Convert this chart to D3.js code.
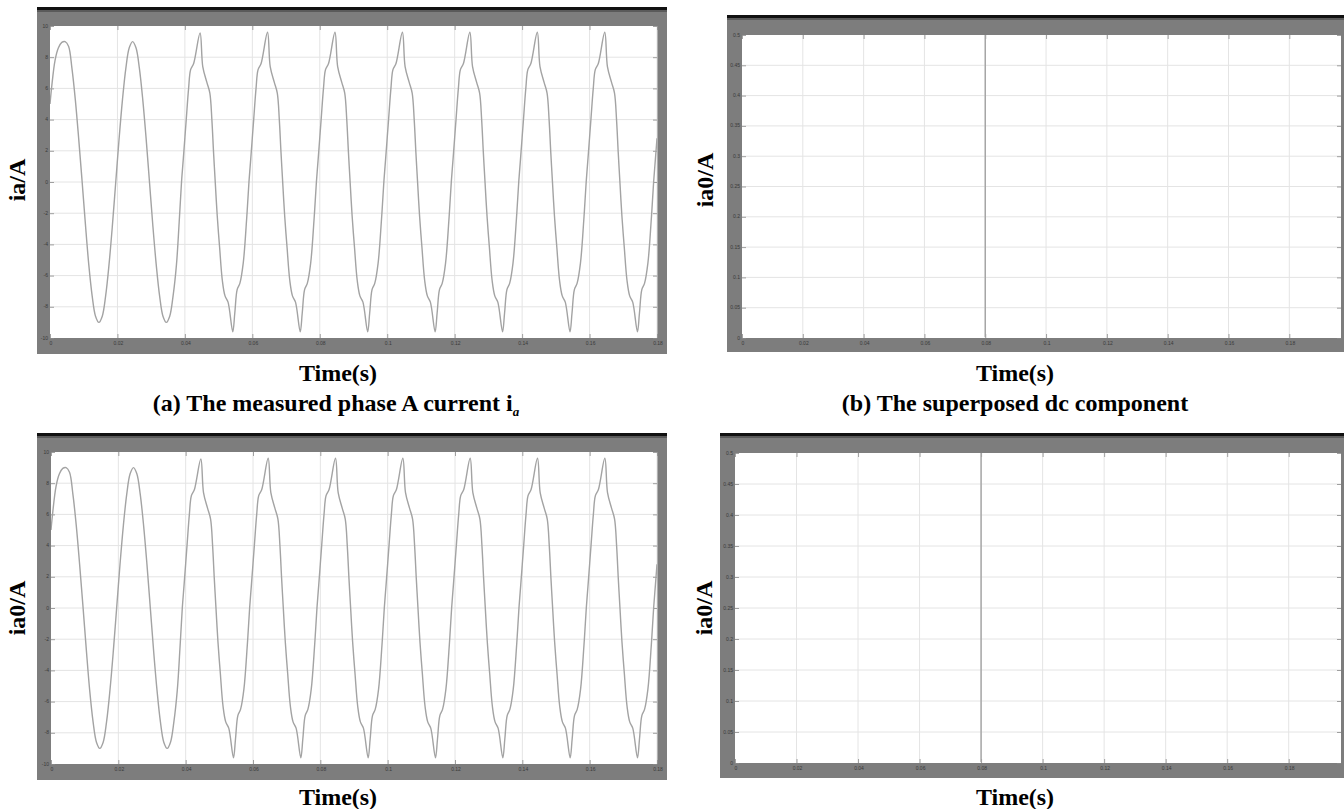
<!DOCTYPE html>
<html>
<head>
<meta charset="utf-8">
<script src="https://cdn.jsdelivr.net/npm/d3@7/dist/d3.min.js"></script>
<style>
  html, body { margin: 0; padding: 0; background: #fff; }
  svg { display: block; }
  .lbl { font-family: "Liberation Serif", "Times New Roman", serif; font-weight: bold; fill: #000; }
  .tk text { font-family: Arial, "Liberation Sans", sans-serif; font-size: 5px; fill: #3a3a3a; }
</style>
</head>
<body>
<svg id="chart" width="1344" height="809"></svg>
<script>
// ---------------- DATA ----------------
// Measured phase A current (s, A)
const iaTime = [
  0.0000, 0.0005, 0.0015, 0.0025, 0.0035, 0.0045, 0.0055, 0.0065, 0.0075, 0.0085, 0.0095,
  0.0105, 0.0115, 0.0125, 0.0135, 0.0145, 0.0155, 0.0165, 0.0175, 0.0185, 0.0195,
  0.0205, 0.0215, 0.0225, 0.0235, 0.0245, 0.0255, 0.0265, 0.0275, 0.0285, 0.0295,
  0.0305, 0.0315, 0.0325, 0.0335, 0.0345, 0.0355, 0.0365, 0.0375, 0.0383,
  0.0390, 0.0395, 0.0404, 0.0411, 0.0417, 0.0426, 0.0445, 0.0453, 0.0465, 0.0474, 0.0480, 0.0485,
  0.0490, 0.0496, 0.0503, 0.0511, 0.0519, 0.0528, 0.0542, 0.0548, 0.0555, 0.0563, 0.0573, 0.0583,
  0.0590, 0.0595, 0.0604, 0.0611, 0.0617, 0.0626, 0.0645, 0.0653, 0.0665, 0.0674, 0.0680, 0.0685,
  0.0690, 0.0696, 0.0703, 0.0711, 0.0719, 0.0728, 0.0742, 0.0748, 0.0755, 0.0763, 0.0773, 0.0783,
  0.0790, 0.0795, 0.0804, 0.0811, 0.0817, 0.0826, 0.0845, 0.0853, 0.0865, 0.0874, 0.0880, 0.0885,
  0.0890, 0.0896, 0.0903, 0.0911, 0.0919, 0.0928, 0.0942, 0.0948, 0.0955, 0.0963, 0.0973, 0.0983,
  0.0990, 0.0995, 0.1004, 0.1011, 0.1017, 0.1026, 0.1045, 0.1053, 0.1065, 0.1074, 0.1080, 0.1085,
  0.1090, 0.1096, 0.1103, 0.1111, 0.1119, 0.1128, 0.1142, 0.1148, 0.1155, 0.1163, 0.1173, 0.1183,
  0.1190, 0.1195, 0.1204, 0.1211, 0.1217, 0.1226, 0.1245, 0.1253, 0.1265, 0.1274, 0.1280, 0.1285,
  0.1290, 0.1296, 0.1303, 0.1311, 0.1319, 0.1328, 0.1342, 0.1348, 0.1355, 0.1363, 0.1373, 0.1383,
  0.1390, 0.1395, 0.1404, 0.1411, 0.1417, 0.1426, 0.1445, 0.1453, 0.1465, 0.1474, 0.1480, 0.1485,
  0.1490, 0.1496, 0.1503, 0.1511, 0.1519, 0.1528, 0.1542, 0.1548, 0.1555, 0.1563, 0.1573, 0.1583,
  0.1590, 0.1595, 0.1604, 0.1611, 0.1617, 0.1626, 0.1645, 0.1653, 0.1665, 0.1674, 0.1680, 0.1685,
  0.1690, 0.1696, 0.1703, 0.1711, 0.1719, 0.1728, 0.1742, 0.1748, 0.1755, 0.1763, 0.1773, 0.1783,
  0.1790, 0.1795, 0.1800
];
const iaValue = [
  5.0, 6.1, 7.8, 8.6, 8.95, 9.0, 8.7, 7.3, 5.3, 2.8, 0.1,
  -2.7, -5.3, -7.3, -8.6, -9.0, -8.6, -7.3, -5.3, -2.8, 0.0,
  2.8, 5.3, 7.3, 8.6, 9.0, 8.6, 7.3, 5.3, 2.8, 0.0,
  -2.8, -5.3, -7.3, -8.6, -9.0, -8.6, -7.3, -5.3, -2.6,
  0.0, 1.4, 4.0, 6.0, 7.2, 7.6, 9.55, 7.4, 6.4, 5.7, 4.0, 1.9,
  0.0, -2.2, -4.2, -6.3, -7.3, -7.7, -9.6, -8.4, -6.9, -6.5, -5.2, -2.4,
  0.0, 1.4, 4.0, 6.0, 7.2, 7.6, 9.6, 7.4, 6.4, 5.7, 4.0, 1.9,
  0.0, -2.2, -4.2, -6.3, -7.3, -7.7, -9.6, -8.4, -6.9, -6.5, -5.2, -2.4,
  0.0, 1.4, 4.0, 6.0, 7.2, 7.6, 9.6, 7.4, 6.4, 5.7, 4.0, 1.9,
  0.0, -2.2, -4.2, -6.3, -7.3, -7.7, -9.6, -8.4, -6.9, -6.5, -5.2, -2.4,
  0.0, 1.4, 4.0, 6.0, 7.2, 7.6, 9.6, 7.4, 6.4, 5.7, 4.0, 1.9,
  0.0, -2.2, -4.2, -6.3, -7.3, -7.7, -9.6, -8.4, -6.9, -6.5, -5.2, -2.4,
  0.0, 1.4, 4.0, 6.0, 7.2, 7.6, 9.6, 7.4, 6.4, 5.7, 4.0, 1.9,
  0.0, -2.2, -4.2, -6.3, -7.3, -7.7, -9.6, -8.4, -6.9, -6.5, -5.2, -2.4,
  0.0, 1.4, 4.0, 6.0, 7.2, 7.6, 9.6, 7.4, 6.4, 5.7, 4.0, 1.9,
  0.0, -2.2, -4.2, -6.3, -7.3, -7.7, -9.6, -8.4, -6.9, -6.5, -5.2, -2.4,
  0.0, 1.4, 4.0, 6.0, 7.2, 7.6, 9.6, 7.4, 6.4, 5.7, 4.0, 1.9,
  0.0, -2.2, -4.2, -6.3, -7.3, -7.7, -9.6, -8.4, -6.9, -6.5, -5.2, -2.4,
  0.0, 1.4, 2.8
];
// Superposed dc component (s, A): steps at 0.08 s, upper level beyond the 0.5 A scale
const dcTime  = [0.0, 0.08, 0.08, 0.197];
const dcValue = [0.0, 0.0, 0.8, 0.8];

// Tick labels
const iaTicks   = [-10, -8, -6, -4, -2, 0, 2, 4, 6, 8, 10];
const dcTicks   = [0, 0.05, 0.1, 0.15, 0.2, 0.25, 0.3, 0.35, 0.4, 0.45, 0.5];
const timeTicks = [0, 0.02, 0.04, 0.06, 0.08, 0.1, 0.12, 0.14, 0.16, 0.18];

const iaSeries = iaTime.map((t, i) => ({ t: t, v: iaValue[i] }));
const dcSeries = dcTime.map((t, i) => ({ t: t, v: dcValue[i] }));

// ---------------- LAYOUT ----------------
const svg = d3.select("#chart");
const panels = [
  { id: "a", outer: [37, 7, 667, 354],  inner: [50, 26, 657, 338], xMax: 0.18,  y: [-10, 10], yTicks: iaTicks, data: iaSeries, curve: d3.curveCatmullRom.alpha(0.5),
    ylabel: "ia/A",  ylx: 25,  yly: 180, xlabelY: 381, xlabelX: 338 },
  { id: "b", outer: [727, 15, 1360, 352], inner: [742, 35, 1341, 338], xMax: 0.197, y: [0, 0.5], yTicks: dcTicks, data: dcSeries, curve: d3.curveLinear,
    ylabel: "ia0/A", ylx: 713, yly: 180, xlabelY: 381, xlabelX: 1015 },
  { id: "c", outer: [37, 433, 667, 780], inner: [51, 452, 657, 764], xMax: 0.18,  y: [-10, 10], yTicks: iaTicks, data: iaSeries, curve: d3.curveCatmullRom.alpha(0.5),
    ylabel: "ia0/A", ylx: 25,  yly: 608, xlabelY: 805, xlabelX: 338 },
  { id: "d", outer: [720, 433, 1360, 778], inner: [735, 453, 1341, 763], xMax: 0.197, y: [0, 0.5], yTicks: dcTicks, data: dcSeries, curve: d3.curveLinear,
    ylabel: "ia0/A", ylx: 712, yly: 608, xlabelY: 805, xlabelX: 1015 }
];

const fmt = d => (d === 0 ? "0" : String(+d.toFixed(3)));

panels.forEach(p => {
  const [ox0, oy0, ox1, oy1] = p.outer;
  const [l, t, r, b] = p.inner;
  const g = svg.append("g");

  // frame (gray scope border) + black top strip
  g.append("rect").attr("x", ox0).attr("y", oy0).attr("width", ox1 - ox0).attr("height", oy1 - oy0).attr("fill", "#7d7d7d");
  g.append("rect").attr("x", ox0).attr("y", oy0).attr("width", ox1 - ox0).attr("height", 3).attr("fill", "#111");
  g.append("rect").attr("x", ox0).attr("y", oy0 + 3).attr("width", ox1 - ox0).attr("height", 2).attr("fill", "#5a5a5a");
  g.append("rect").attr("x", l).attr("y", t).attr("width", r - l).attr("height", b - t).attr("fill", "#fff");

  const x = d3.scaleLinear().domain([0, p.xMax]).range([l, r]);
  const y = d3.scaleLinear().domain(p.y).range([b, t]);

  // grid
  g.append("g").selectAll("line").data(timeTicks.filter(v => v > 0)).join("line")
    .attr("x1", d => x(d)).attr("x2", d => x(d)).attr("y1", t).attr("y2", b)
    .attr("stroke", "#e4e4e4").attr("stroke-width", 1);
  g.append("g").selectAll("line").data(p.yTicks.filter(v => v > p.y[0] && v < p.y[1])).join("line")
    .attr("x1", l).attr("x2", r).attr("y1", d => y(d)).attr("y2", d => y(d))
    .attr("stroke", "#e4e4e4").attr("stroke-width", 1);

  // axes with inward ticks
  const ax = g.append("g").attr("class", "tk");
  const yl = ax.append("g").attr("transform", `translate(${l},0)`)
    .call(d3.axisRight(y).tickValues(p.yTicks).tickFormat("").tickSize(4));
  const yr = ax.append("g").attr("transform", `translate(${r},0)`)
    .call(d3.axisLeft(y).tickValues(p.yTicks).tickFormat("").tickSize(4));
  const xb = ax.append("g").attr("transform", `translate(0,${b})`)
    .call(d3.axisTop(x).tickValues(timeTicks).tickFormat("").tickSize(4));
  const xt = ax.append("g").attr("transform", `translate(0,${t})`)
    .call(d3.axisBottom(x).tickValues(timeTicks).tickFormat("").tickSize(4));
  [yl, yr, xb, xt].forEach(a => {
    a.select(".domain").remove();
    a.selectAll(".tick line").attr("stroke", "#8a8a8a").attr("stroke-width", 0.8);
  });
  // tick labels in gray border
  ax.append("g").selectAll("text").data(p.yTicks).join("text")
    .attr("x", l - 2).attr("y", d => y(d) + 1.5).attr("text-anchor", "end").text(fmt);
  ax.append("g").selectAll("text").data(timeTicks).join("text")
    .attr("x", d => x(d) + 1).attr("y", b + 7).attr("text-anchor", "middle").text(fmt);

  // data
  const clipId = "clip-" + p.id;
  svg.append("clipPath").attr("id", clipId).append("rect")
    .attr("x", l).attr("y", t).attr("width", r - l).attr("height", b - t - 1);
  g.append("path").datum(p.data)
    .attr("clip-path", `url(#${clipId})`)
    .attr("fill", "none").attr("stroke", "#a3a3a3").attr("stroke-width", 1.4)
    .attr("stroke-linejoin", "round")
    .attr("d", d3.line().x(d => x(d.t)).y(d => y(d.v)).curve(p.curve));

  // labels
  svg.append("text").attr("class", "lbl").attr("font-size", 24)
    .attr("transform", `translate(${p.ylx},${p.yly}) rotate(-90)`)
    .attr("text-anchor", "middle").text(p.ylabel);
  svg.append("text").attr("class", "lbl").attr("font-size", 24)
    .attr("x", p.xlabelX).attr("y", p.xlabelY).attr("text-anchor", "middle").text("Time(s)");
});

// captions
const capA = svg.append("text").attr("class", "lbl").attr("font-size", 24)
  .attr("x", 336).attr("y", 411).attr("text-anchor", "middle");
capA.append("tspan").text("(a) The measured phase A current i");
capA.append("tspan").attr("font-size", 13).attr("font-style", "italic").attr("dy", 5).text("a");
svg.append("text").attr("class", "lbl").attr("font-size", 24)
  .attr("x", 1015).attr("y", 411).attr("text-anchor", "middle").text("(b) The superposed dc component");
</script>
</body>
</html>
